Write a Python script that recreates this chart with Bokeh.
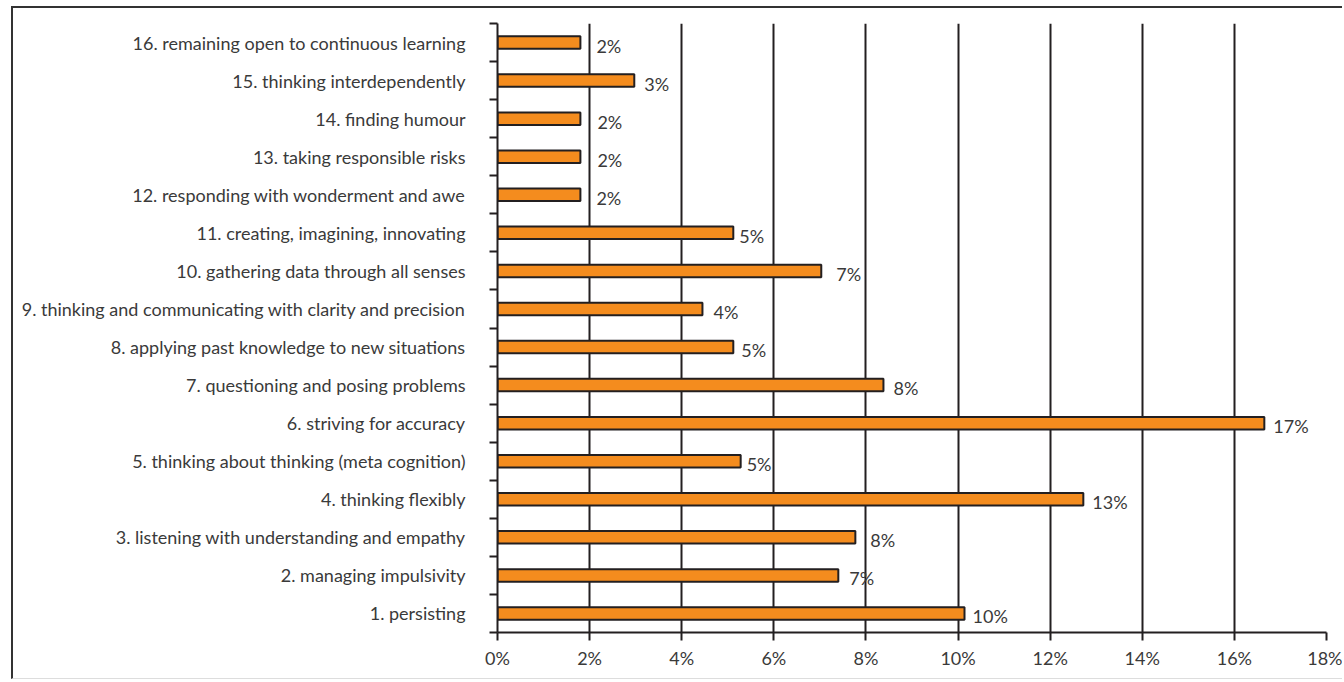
from bokeh.plotting import figure
from bokeh.models import FixedTicker, PrintfTickFormatter, ColumnDataSource
from bokeh.core.properties import value
from bokeh.embed import file_html
from bokeh.resources import INLINE

categories = [
    "1. persisting",
    "2. managing impulsivity",
    "3. listening with understanding and empathy",
    "4. thinking flexibly",
    "5. thinking about thinking (meta cognition)",
    "6. striving for accuracy",
    "7. questioning and posing problems",
    "8. applying past knowledge to new situations",
    "9. thinking and communicating with clarity and precision",
    "10. gathering data through all senses",
    "11. creating, imagining, innovating",
    "12. responding with wonderment and awe",
    "13. taking responsible risks",
    "14. finding humour",
    "15. thinking interdependently",
    "16. remaining open to continuous learning",
]
values = [10.14, 7.40, 7.77, 12.72, 5.28, 16.65, 8.38, 5.12, 4.45, 7.03, 5.12, 1.80, 1.80, 1.80, 2.97, 1.80]
x_ticks = [0, 2, 4, 6, 8, 10, 12, 14, 16, 18]

# styling: horizontal pixel nudge of each value label (as in the original layout)
label_dx = [8, 11, 15, 9, 6, 9, 10, 8, 11, 15, 6, 16, 17, 17, 10, 16]

FONT = "Lato"
FS = "18px"
TXT = "#3a3a3a"
DARK = "#231F20"

pos = [i + 1 for i in range(len(categories))]
labels = [f"{round(v):d}%" for v in values]
src = ColumnDataSource(dict(y=pos, v=values, lab=labels, dx=label_dx))

p = figure(width=1331, height=673, x_range=(0, 18), y_range=(0.5, 16.5),
           output_backend="svg", toolbar_location=None,
           min_border_left=484, min_border_right=18, min_border_top=15, min_border_bottom=49)
p.margin = (6, 0, 0, 11)
p.styles = {"border-left": "2px solid #333333", "border-top": "2px solid #333333",
            "border-bottom": "1px solid #dddddd"}
p.outline_line_color = None
p.background_fill_color = "white"
p.border_fill_color = "white"

p.hbar(y="y", right="v", left=0, height=0.33, source=src,
       fill_color="#F48C1E", line_color=DARK, line_width=2)
p.text(x="v", y="y", text="lab", source=src, x_offset="dx", y_offset=3,
       text_font=value(FONT), text_font_size=FS, text_color=TXT,
       text_baseline="middle", text_align="left")

# x axis
xa = p.xaxis[0]
xa.ticker = FixedTicker(ticks=x_ticks)
xa.formatter = PrintfTickFormatter(format="%d%%")
xa.major_tick_out = 8
xa.major_tick_in = 0
xa.minor_tick_out = 0
xa.minor_tick_in = 0
xa.axis_line_width = 2
xa.axis_line_color = DARK
xa.major_tick_line_width = 2
xa.major_tick_line_color = DARK
xa.major_label_text_font = FONT
xa.major_label_text_font_size = FS
xa.major_label_text_color = TXT
xa.major_label_standoff = 6

# y axis
ya = p.yaxis[0]
ya.ticker = FixedTicker(ticks=pos, minor_ticks=[i + 0.5 for i in range(len(categories) + 1)])
ya.major_label_overrides = {k: c for k, c in zip(pos, categories)}
ya.major_tick_out = 0
ya.major_tick_in = 0
ya.minor_tick_out = 8
ya.minor_tick_in = 0
ya.minor_tick_line_width = 2
ya.minor_tick_line_color = DARK
ya.axis_line_width = 2
ya.axis_line_color = DARK
ya.major_label_text_font = FONT
ya.major_label_text_font_size = FS
ya.major_label_text_color = TXT
ya.major_label_standoff = 24

p.xgrid.ticker = FixedTicker(ticks=x_ticks[1:-1])
p.xgrid.grid_line_color = DARK
p.xgrid.grid_line_width = 2
p.ygrid.grid_line_color = None

open("out.html", "w").write(file_html(p, INLINE))
